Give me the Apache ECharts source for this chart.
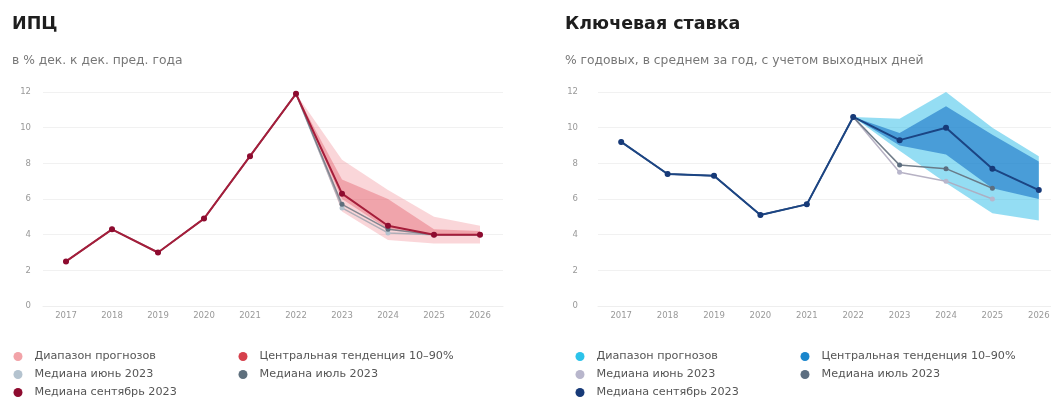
<!DOCTYPE html>
<html><head><meta charset="utf-8">
<script src="https://cdn.jsdelivr.net/npm/echarts@6/dist/echarts.min.js"></script>
<style>
html,body{margin:0;padding:0;background:#fff;}
#wrap{position:relative;width:1051px;height:399px;overflow:hidden;}
#c1{position:absolute;left:0;top:0;width:525px;height:399px;}
#c2{position:absolute;left:525px;top:0;width:540px;height:399px;}
</style></head>
<body><div id="wrap"><div id="c1"></div><div id="c2"></div></div>
<script>
const years = ['2017','2018','2019','2020','2021','2022','2023','2024','2025','2026'];
const yTicks = {min: 0, max: 12, interval: 2};

// ИПЦ
const cpiSep = [2.5, 4.3, 3.0, 4.9, 8.4, 11.9, 6.3, 4.5, 4.0, 4.0];
const cpiJul = [2.5, 4.3, 3.0, 4.9, 8.4, 11.9, 5.7, 4.3, 4.0, 4.0];
const cpiJun = [2.5, 4.3, 3.0, 4.9, 8.4, 11.9, 5.5, 4.1, 4.0, 4.0];
const cpiRangeLow  = [null, null, null, null, null, 11.9, 5.3, 3.7, 3.5, 3.5];
const cpiRangeHigh = [null, null, null, null, null, 11.9, 8.2, 6.5, 5.0, 4.5];
const cpiCentLow   = [null, null, null, null, null, 11.9, 6.0, 4.3, 4.0, 4.0];
const cpiCentHigh  = [null, null, null, null, null, 11.9, 7.1, 6.0, 4.3, 4.2];

// Ключевая ставка
const rateSep = [9.2, 7.4, 7.3, 5.1, 5.7, 10.6, 9.3, 10.0, 7.7, 6.5];
const rateJul = [9.2, 7.4, 7.3, 5.1, 5.7, 10.6, 7.9, 7.7, 6.6, null];
const rateJun = [9.2, 7.4, 7.3, 5.1, 5.7, 10.6, 7.5, 7.0, 6.0, null];
const rateRangeLow  = [null, null, null, null, null, 10.6, 8.7, 6.9, 5.2, 4.8];
const rateRangeHigh = [null, null, null, null, null, 10.6, 10.5, 12.0, 10.0, 8.4];
const rateCentLow   = [null, null, null, null, null, 10.6, 9.0, 8.5, 6.6, 6.0];
const rateCentHigh  = [null, null, null, null, null, 10.6, 9.7, 11.2, 9.6, 8.1];

const names = ['Диапазон прогнозов', 'Центральная тенденция 10–90%', 'Медиана июнь 2023', 'Медиана июль 2023', 'Медиана сентябрь 2023'];

function diff(hi, lo){ return hi.map((v,i)=> (v==null||lo[i]==null) ? '-' : +(v-lo[i]).toFixed(3)); }
function dash(a){ return a.map(v => v==null ? '-' : v); }

function build(el, cfg){
  const chart = echarts.init(document.getElementById(el), null, {renderer:'canvas'});
  const base = {type:'line', symbol:'none', lineStyle:{width:0, opacity:0}, silent:true};
  const medLine = (name, data, lc, mc, w, sz, z) => ({
    name, type:'line', data: dash(data), z,
    symbol:'circle', symbolSize: sz, showSymbol:true,
    itemStyle:{color: mc}, lineStyle:{color: lc, width: w}
  });
  const legPos = [
    [cfg.col1, 351], [cfg.col2, 351], [cfg.col1, 369], [cfg.col2, 369], [cfg.col1, 387]
  ];
  const legColors = cfg.legColors;
  chart.setOption({
    animation:false,
    title:[
      {text: cfg.title, left: cfg.titleLeft, top: 15, padding:0, textStyle:{fontFamily:'DejaVu Sans', fontWeight:700, fontSize:17.5, color:'#1e1e1e'}},
      {text: cfg.sub, left: cfg.titleLeft, top: 55, padding:0, textStyle:{fontFamily:'DejaVu Sans', fontWeight:400, fontSize:12.3, color:'#777'}}
    ],
    legend: names.map((n,i)=>({
      data:[n], left: legPos[i][0], top: legPos[i][1], padding:0, icon:'circle', itemWidth:9, itemHeight:9,
      selectedMode:false,
      textStyle:{fontFamily:'DejaVu Sans', fontSize:11.2, color:'#555', padding:[0,0,0,7]}
    })),
    grid: cfg.grid,
    xAxis:{type:'category', data: years, boundaryGap:true,
      axisLine:{show:true, lineStyle:{color:'#eeeeee'}}, axisTick:{show:false},
      axisLabel:{fontFamily:'DejaVu Sans', fontSize:8.5, color:'#999', margin:5}},
    yAxis:{type:'value', min: yTicks.min, max: yTicks.max, interval: yTicks.interval,
      axisLine:{show:false}, axisTick:{show:false},
      axisLabel:{fontFamily:'DejaVu Sans', fontSize:8.5, color:'#999', margin: cfg.yMargin},
      splitLine:{lineStyle:{color:'#f1f1f1', width:1}}},
    series:[
      Object.assign({}, base, {name:'rb', stack:'r', data: dash(cfg.rLow), z:1}),
      Object.assign({}, base, {name:names[0], stack:'r', data: diff(cfg.rHigh, cfg.rLow), z:1,
        itemStyle:{color: legColors[0]}, areaStyle:{color: cfg.rangeFill, opacity:1}}),
      Object.assign({}, base, {name:'cb', stack:'c', data: dash(cfg.cLow), z:2}),
      Object.assign({}, base, {name:names[1], stack:'c', data: diff(cfg.cHigh, cfg.cLow), z:2,
        itemStyle:{color: legColors[1]}, areaStyle:{color: cfg.centFill, opacity:1}}),
      Object.assign(medLine(names[2], cfg.jun, cfg.junLine, cfg.junLine, 1.5, 5, 3), {itemStyle:{color: legColors[2]}}),
      Object.assign(medLine(names[3], cfg.jul, cfg.julLine, cfg.julLine, 1.5, 5, 4), {itemStyle:{color: legColors[3]}}),
      medLine(names[4], cfg.sep, cfg.sepLine, legColors[4], 2, 6, 5)
    ]
  });
}

build('c1', {
  title:'ИПЦ', sub:'в % дек. к дек. пред. года', titleLeft: 12,
  grid:{left:43, right:22, top:92, bottom:93},
  yMargin: 12, col1: 13.5, col2: 238.5,
  rLow: cpiRangeLow, rHigh: cpiRangeHigh, cLow: cpiCentLow, cHigh: cpiCentHigh,
  jun: cpiJun, jul: cpiJul, sep: cpiSep,
  rangeFill:'rgba(238,120,128,0.30)', centFill:'rgba(220,60,75,0.32)',
  junLine:'rgba(150,160,172,0.75)', julLine:'rgba(95,108,120,0.75)', sepLine:'#a51d3a',
  legColors:['#f2a3a8', '#d6404c', '#b4c3cf', '#5e6f7d', '#8e0b2f']
});

build('c2', {
  title:'Ключевая ставка', sub:'% годовых, в среднем за год, с учетом выходных дней', titleLeft: 40,
  grid:{left:73, width:464, top:92, bottom:93},
  yMargin: 20, col1: 50.5, col2: 275.5,
  rLow: rateRangeLow, rHigh: rateRangeHigh, cLow: rateCentLow, cHigh: rateCentHigh,
  jun: rateJun, jul: rateJul, sep: rateSep,
  rangeFill:'rgba(50,190,232,0.52)', centFill:'rgba(28,118,198,0.62)',
  junLine:'rgba(175,170,190,0.9)', julLine:'rgba(100,112,125,0.9)', sepLine:'#1b4584',
  legColors:['#2cc3ea', '#1a86cc', '#b8b6cc', '#5c6e80', '#173a78']
});
</script></body></html>
